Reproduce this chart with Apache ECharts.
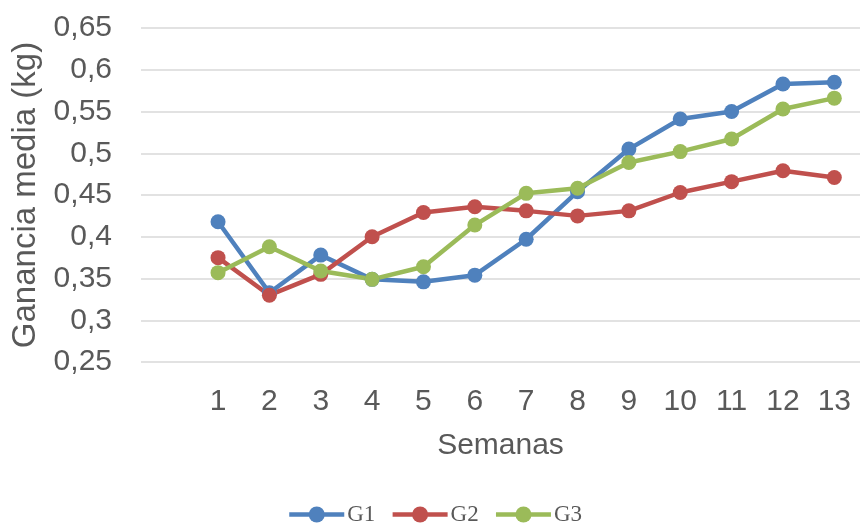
<!DOCTYPE html>
<html>
<head>
<meta charset="utf-8">
<script src="https://cdn.jsdelivr.net/npm/echarts@6/dist/echarts.min.js"></script>
<style>
  html, body { margin: 0; padding: 0; background: #fff; }
  #chart { width: 861px; height: 523px; }
</style>
</head>
<body>
<div id="chart"></div>
<script>
// Week labels; the leading blank slot leaves an empty band before week 1
const semanas = ['', '1', '2', '3', '4', '5', '6', '7', '8', '9', '10', '11', '12', '13'];

// Mean weight gain (kg) per group and week
const g1 = [null, 0.418, 0.333, 0.378, 0.349, 0.346, 0.354, 0.397, 0.454, 0.505, 0.541, 0.550, 0.583, 0.585];
const g2 = [null, 0.375, 0.330, 0.355, 0.400, 0.429, 0.436, 0.431, 0.425, 0.431, 0.453, 0.466, 0.479, 0.471];
const g3 = [null, 0.357, 0.388, 0.359, 0.349, 0.364, 0.414, 0.452, 0.458, 0.489, 0.502, 0.517, 0.553, 0.566];

const yTicks = { min: 0.25, max: 0.65, step: 0.05 };

const chart = echarts.init(document.getElementById('chart'), null, { renderer: 'canvas' });

const axisFont = 'Liberation Sans, Arial, sans-serif';
const textGray = '#595959';

function lineSeries(name, data, color) {
  return {
    name: name,
    type: 'line',
    data: data,
    symbol: 'circle',
    symbolSize: 15,
    lineStyle: { width: 4.5, color: color },
    itemStyle: { color: color },
    connectNulls: false,
    animation: false
  };
}

chart.setOption({
  animation: false,
  grid: { left: 141, right: 1, top: 28, bottom: 161, containLabel: false },
  legend: {
    top: 498,
    left: 282,
    itemWidth: 55,
    itemHeight: 20,
    itemGap: 15,
    lineStyle: { width: 4.5 },
    textStyle: { fontFamily: 'Liberation Serif, serif', fontSize: 23, color: textGray, padding: [0, 0, 0, -2] },
    data: ['G1', 'G2', 'G3']
  },
  xAxis: {
    type: 'category',
    data: semanas,
    boundaryGap: true,
    name: 'Semanas',
    nameLocation: 'middle',
    nameGap: 69,
    nameTextStyle: { fontFamily: axisFont, fontSize: 30, color: textGray },
    axisLine: { show: false },
    axisTick: { show: false },
    axisLabel: { fontFamily: axisFont, fontSize: 30, color: textGray, margin: 25, interval: 0 }
  },
  yAxis: {
    type: 'value',
    min: yTicks.min,
    max: yTicks.max,
    interval: yTicks.step,
    name: 'Ganancia media (kg)',
    nameLocation: 'middle',
    nameGap: 97,
    nameTextStyle: { fontFamily: axisFont, fontSize: 33, color: textGray },
    axisLine: { show: false },
    axisTick: { show: false },
    axisLabel: {
      fontFamily: axisFont, fontSize: 30, color: textGray, margin: 29,
      formatter: v => String(Math.round(v * 100) / 100).replace('.', ',')
    },
    splitLine: { lineStyle: { color: '#d9d9d9', width: 1.5 } }
  },
  series: [
    lineSeries('G1', g1, '#4F81BD'),
    lineSeries('G2', g2, '#C0504D'),
    lineSeries('G3', g3, '#9BBB59')
  ]
});
</script>
</body>
</html>
